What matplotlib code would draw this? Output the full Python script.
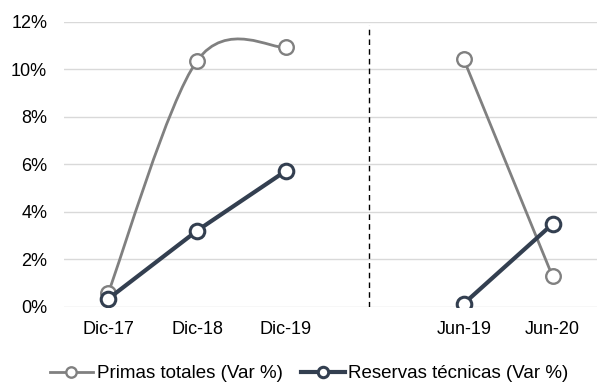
import numpy as np
import matplotlib
matplotlib.use('Agg')
import matplotlib.pyplot as plt
from matplotlib.path import Path
from matplotlib.patches import PathPatch
from matplotlib.lines import Line2D
from matplotlib.ticker import FuncFormatter

plt.rcParams['font.family'] = ['Liberation Sans', 'DejaVu Sans']

# ── Data ────────────────────────────────────────────────
labels   = ['Dic-17', 'Dic-18', 'Dic-19', '', 'Jun-19', 'Jun-20']
primas   = [0.6, 10.37, 10.93, np.nan, 10.43, 1.28]
reservas = [0.34, 3.21, 5.73, np.nan, 0.13, 3.49]

GRAY = '#808080'
NAVY = '#333F50'
GRID = '#D9D9D9'


def smooth_path(xs, ys):
    """Excel-style smoothed line (Catmull-Rom as cubic Bezier) for one run of points."""
    pts = np.column_stack([xs, ys])
    verts = [pts[0]]
    codes = [Path.MOVETO]
    n = len(pts)
    for i in range(n - 1):
        p0 = pts[max(i - 1, 0)]
        p1 = pts[i]
        p2 = pts[i + 1]
        p3 = pts[min(i + 2, n - 1)]
        c1 = p1 + (p2 - p0) / 6
        c2 = p2 - (p3 - p1) / 6
        verts += [c1, c2, p2]
        codes += [Path.CURVE4] * 3
    return Path(verts, codes)


def runs(vals):
    v = np.array(vals, dtype=float)
    out, cur = [], []
    for xi, vi in enumerate(v):
        if np.isnan(vi):
            if cur:
                out.append(cur)
            cur = []
        else:
            cur.append((xi, vi))
    if cur:
        out.append(cur)
    return out


fig = plt.figure(figsize=(5.97, 3.85), dpi=100)
ax = fig.add_axes([0.107, 0.203, 0.893, 0.740])

x = np.arange(len(labels))

# gray smoothed series
for seg in runs(primas):
    sx, sy = zip(*seg)
    ax.add_patch(PathPatch(smooth_path(sx, sy), facecolor='none', edgecolor=GRAY,
                           lw=2, zorder=3, capstyle='round'))
ax.plot(x, primas, ls='none', marker='o', ms=10.5, mfc='white', mec=GRAY, mew=1.7, zorder=4)

# navy straight series
ax.plot(x, reservas, color=NAVY, lw=3, marker='o', ms=10.5, mfc='white',
        mec=NAVY, mew=2.2, zorder=5)

ax.axvline(2.93, ymin=0, ymax=0.99, color='black', lw=1, ls=(0, (4, 3)), zorder=2)

ax.set_xlim(-0.5, 5.5)
ax.set_ylim(0, 12)
ax.set_yticks(np.arange(0, 13, 2))
ax.yaxis.set_major_formatter(FuncFormatter(lambda v, p: f'{v:.0f}%'))
ax.set_xticks(x)
ax.set_xticklabels(labels)
ax.grid(axis='y', color=GRID, lw=1)
ax.set_axisbelow(True)
ax.tick_params(length=0, labelsize=13, colors='black', pad=10)
ax.tick_params(axis='y', pad=12)
for s in ax.spines.values():
    s.set_visible(False)

handles = [
    Line2D([], [], color=GRAY, lw=2, marker='o', ms=7.5, mfc='white', mec=GRAY, mew=1.7),
    Line2D([], [], color=NAVY, lw=3, marker='o', ms=7.5, mfc='white', mec=NAVY, mew=2.2),
]
fig.legend(handles, ['Primas totales (Var %)', 'Reservas técnicas (Var %)'],
           loc='lower center', bbox_to_anchor=(0.518, -0.037), ncol=2, frameon=False,
           fontsize=13.5, handlelength=2.3, handletextpad=0.2, columnspacing=1.0)

fig.savefig('out.png', dpi=100)
